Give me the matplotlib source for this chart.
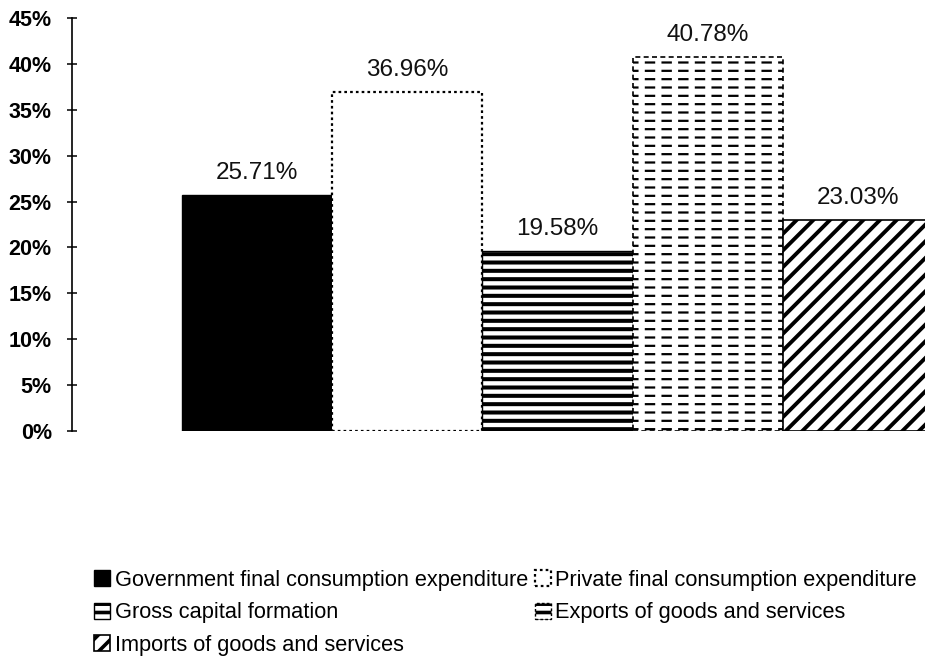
import matplotlib
matplotlib.use("Agg")
import matplotlib.pyplot as plt
from matplotlib.ticker import FuncFormatter
from matplotlib.patches import Patch

plt.rcParams['font.family'] = ['Liberation Sans', 'DejaVu Sans']
plt.rcParams['hatch.linewidth'] = 2.6

categories = ["Government final consumption expenditure",
              "Private final consumption expenditure",
              "Gross capital formation",
              "Exports of goods and services",
              "Imports of goods and services"]
values = [25.71, 36.96, 19.58, 40.78, 23.03]
value_labels = ["25.71%", "36.96%", "19.58%", "40.78%", "23.03%"]
yticks = [0, 5, 10, 15, 20, 25, 30, 35, 40, 45]

fig = plt.figure(figsize=(9.25, 6.61), dpi=100)
ax = fig.add_axes([72/925, 230/661, 853/925, 413/661])

x = list(range(len(categories)))
W = 1.0

def set_hlw(patches, lw):
    for p in patches:
        if hasattr(p, 'set_hatch_linewidth'):
            p.set_hatch_linewidth(lw)

# Government: solid black
b0 = ax.bar(x[0], values[0], width=W, color='black', edgecolor='black', linewidth=1)
# Private: white with dotted border
b1 = ax.bar(x[1], values[1], width=W, facecolor='white', edgecolor='black',
            linewidth=1.6, linestyle=(0, (1.2, 1.4)))
# Gross capital formation: horizontal lines
b2 = ax.bar(x[2], values[2], width=W, facecolor='white', edgecolor='black',
            hatch='--', linewidth=1)
set_hlw(b2, 2.9)
# Exports: dashed horizontal lines
b3 = ax.bar(x[3], values[3], width=W, facecolor='white', edgecolor='black',
            hatch='--', linewidth=0)
set_hlw(b3, 1.6)
b3w = ax.bar(x[3], values[3], width=W, facecolor='none', edgecolor='white',
             hatch='|', linewidth=0)
set_hlw(b3w, 4.5)
ax.bar(x[3], values[3], width=W, facecolor='none', edgecolor='black',
       linewidth=1.2, linestyle=(0, (3, 2)))
# Imports: diagonal lines
b4 = ax.bar(x[4], values[4], width=W, facecolor='white', edgecolor='black',
            hatch='//', linewidth=1.2)
set_hlw(b4, 2.8)

for xi, v, lab in zip(x, values, value_labels):
    ax.annotate(lab, xy=(xi, v), xytext=(0, 11.5), textcoords='offset points',
                ha='center', va='baseline', fontsize=17.5, color='#111111')

ax.set_xlim(-1.232, 4.445)
ax.set_ylim(0, 45)
ax.set_yticks(yticks)
ax.yaxis.set_major_formatter(FuncFormatter(lambda v, p: f"{int(v)}%"))
ax.set_xticks([])
for s in ['top', 'right', 'bottom']:
    ax.spines[s].set_visible(False)
ax.spines['left'].set_linewidth(1.2)
ax.tick_params(axis='y', direction='inout', length=7, width=1.1, pad=11,
               labelsize=15.5)
for t in ax.get_yticklabels():
    t.set_fontweight('bold')

exp_handle = Patch(facecolor='white', edgecolor='black', hatch='--',
                   linewidth=1, linestyle=(0, (2, 1.5)))
handles = [b0[0], b2[0], b4[0], b1[0], exp_handle]
labels = [categories[0], categories[2], categories[4], categories[1], categories[3]]
fig.legend(handles, labels, ncol=2, loc='upper left',
           bbox_to_anchor=(94/925, 1 - 570/661), frameon=False,
           fontsize=15.7, handlelength=0.75, handleheight=0.75,
           handletextpad=0.2, columnspacing=0.3, labelspacing=0.52,
           borderpad=0, borderaxespad=0)

fig.savefig('out.png', dpi=100)
